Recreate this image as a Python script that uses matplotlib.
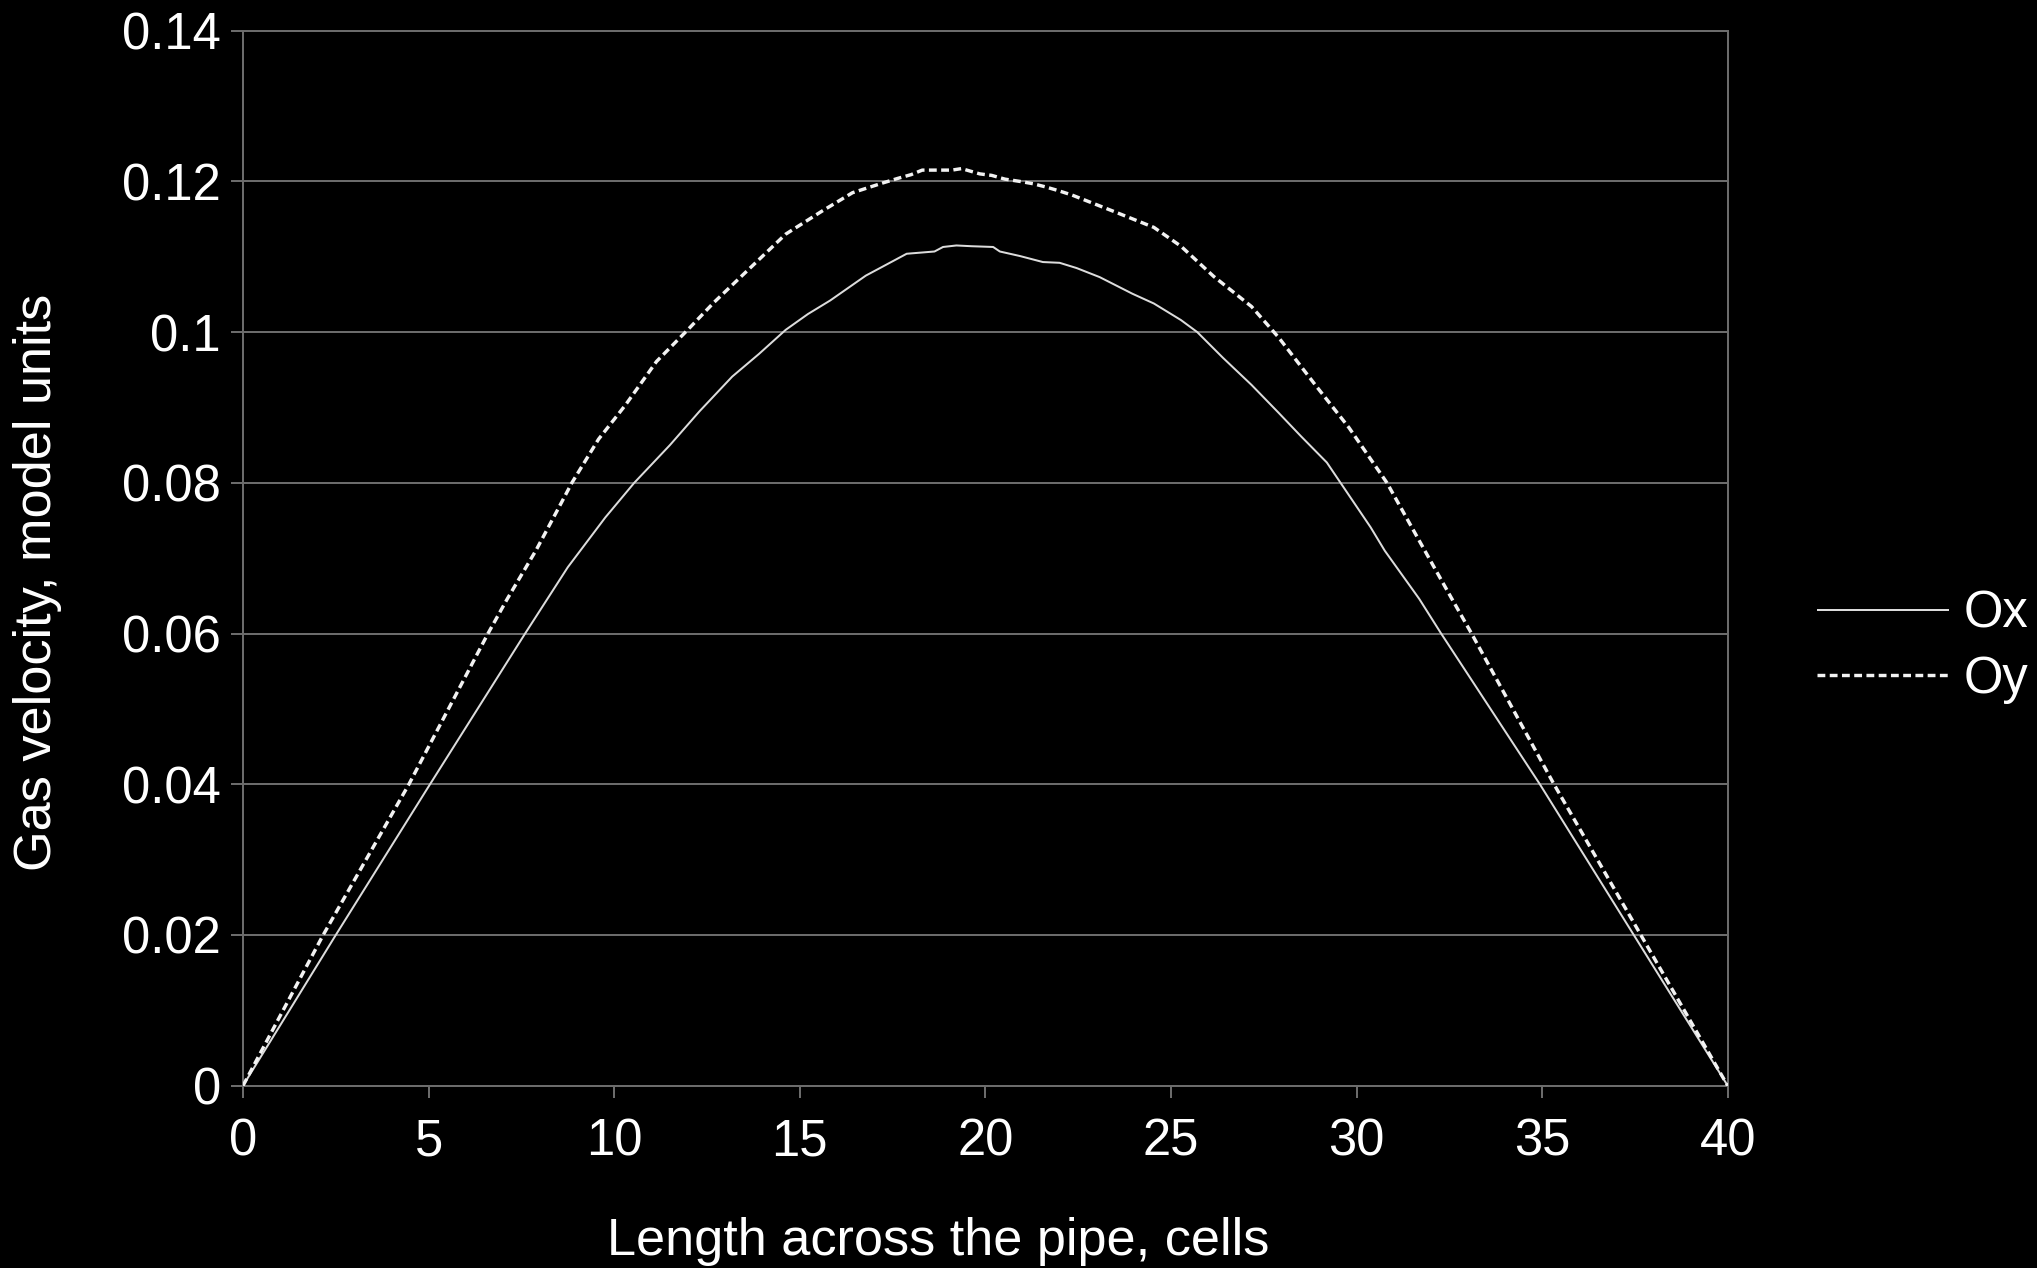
import matplotlib
matplotlib.use("Agg")
import matplotlib.pyplot as plt
from matplotlib.ticker import FuncFormatter

# Velocity profile across the pipe (cells) for the two velocity components
ox_x = [0, 2.5, 5.0, 7.6, 8.75, 9.76, 10.54, 11.5, 12.3, 13.18, 13.9, 14.62,
        15.22, 15.82, 16.78, 17.16, 17.88, 18.63, 18.86, 19.22, 19.63, 20.21,
        20.39, 20.93, 21.55, 22.0, 22.46, 23.08, 23.96, 24.54, 25.27, 25.71,
        26.4, 27.17, 27.9, 28.5, 29.2, 29.57, 30.38, 30.76, 31.69, 32.28,
        34.94, 37.47, 40]
ox_v = [0, 0.0200, 0.0397, 0.0600, 0.0688, 0.0754, 0.0800, 0.0850, 0.0895,
        0.0941, 0.0971, 0.1003, 0.1024, 0.1042, 0.1075, 0.1085, 0.1104,
        0.1107, 0.1113, 0.1115, 0.1114, 0.1113, 0.1107, 0.1101, 0.1093,
        0.1092, 0.1085, 0.1073, 0.1051, 0.1038, 0.1016, 0.1000, 0.0966,
        0.0930, 0.0893, 0.0862, 0.0827, 0.0800, 0.0741, 0.0710, 0.0646,
        0.0600, 0.0400, 0.0200, 0]

oy_x = [0, 2.16, 4.47, 6.6, 7.12, 7.9, 8.56, 8.86, 9.58, 10.3, 11.14, 11.98,
        12.7, 13.66, 14.62, 15.58, 16.42, 17.24, 17.64, 18.0, 18.3, 19.1,
        19.36, 19.85, 20.17, 20.53, 20.93, 21.28, 21.6, 21.95, 22.33, 23.52,
        24.54, 25.27, 26.15, 27.17, 27.9, 28.92, 29.8, 30.82, 31.84, 32.57,
        33.1, 35.32, 37.66, 40]
oy_v = [0, 0.0200, 0.0400, 0.0600, 0.0646, 0.0711, 0.0772, 0.0800, 0.0858,
        0.0903, 0.0961, 0.1003, 0.1040, 0.1085, 0.1130, 0.1160, 0.1185,
        0.1198, 0.1204, 0.1209, 0.1215, 0.1215, 0.1217, 0.1210, 0.1208,
        0.1203, 0.1200, 0.1197, 0.1193, 0.1188, 0.1182, 0.1159, 0.1139,
        0.1114, 0.1074, 0.1034, 0.0993, 0.0928, 0.0873, 0.0800, 0.0710,
        0.0646, 0.0600, 0.0400, 0.0200, 0]

series_names = ["Ox", "Oy"]
x_ticks = [0, 5, 10, 15, 20, 25, 30, 35, 40]
y_ticks = [0, 0.02, 0.04, 0.06, 0.08, 0.10, 0.12, 0.14]

plt.rcParams["font.family"] = ["Liberation Sans", "DejaVu Sans"]
FS = 36.5
LABEL_FS = 37.6
GRID = "#6b6b6b"
PX = 0.72  # one pixel at 100 dpi, in points

fig = plt.figure(figsize=(20.37, 12.68), dpi=100, facecolor="black")
ax = fig.add_axes([243 / 2037, 1 - 1085.7 / 1268,
                   (1727.7 - 243) / 2037, (1085.7 - 30.7) / 1268])
ax.set_facecolor("black")

ax.plot(ox_x, ox_v, color="#dcdcdc", lw=2 * PX, solid_capstyle="butt",
        label=series_names[0], zorder=3)
ax.plot(oy_x, oy_v, color="#f2f2f2", lw=3.4 * PX, dashes=(2.3, 1.3),
        dash_capstyle="butt", label=series_names[1], zorder=3)

ax.set_xlim(0, 40)
ax.set_ylim(0, 0.14)
ax.set_xticks(x_ticks)
ax.set_yticks(y_ticks)
ax.yaxis.set_major_formatter(FuncFormatter(lambda v, p: f"{v:.2f}".rstrip("0").rstrip(".") if v else "0"))
ax.grid(axis="y", color=GRID, lw=2 * PX)
ax.set_axisbelow(True)
for s in ax.spines.values():
    s.set_color(GRID)
    s.set_linewidth(2 * PX)
ax.tick_params(axis="both", direction="out", length=12 * PX, width=2 * PX,
               color=GRID, labelcolor="white", labelsize=FS)
ax.tick_params(axis="y", pad=10 * PX)
ax.tick_params(axis="x", pad=20 * PX)

fig.text(938 / 2037, 1 - 1255 / 1268, "Length across the pipe, cells",
         color="white", fontsize=LABEL_FS, ha="center", va="baseline")
fig.text(38 / 2037, 1 - 582 / 1268, "Gas velocity, model units",
         color="white", fontsize=LABEL_FS, ha="center", va="center", rotation=90)

leg = ax.legend(loc="center left", bbox_to_anchor=(1817 / 2037, 1 - 646.5 / 1268),
                bbox_transform=fig.transFigure, frameon=False, fontsize=FS,
                handlelength=2.6, handletextpad=0.3, labelspacing=0.32,
                borderpad=0, borderaxespad=0)
for t in leg.get_texts():
    t.set_color("white")

fig.savefig("out.png", dpi=100, facecolor="black")
